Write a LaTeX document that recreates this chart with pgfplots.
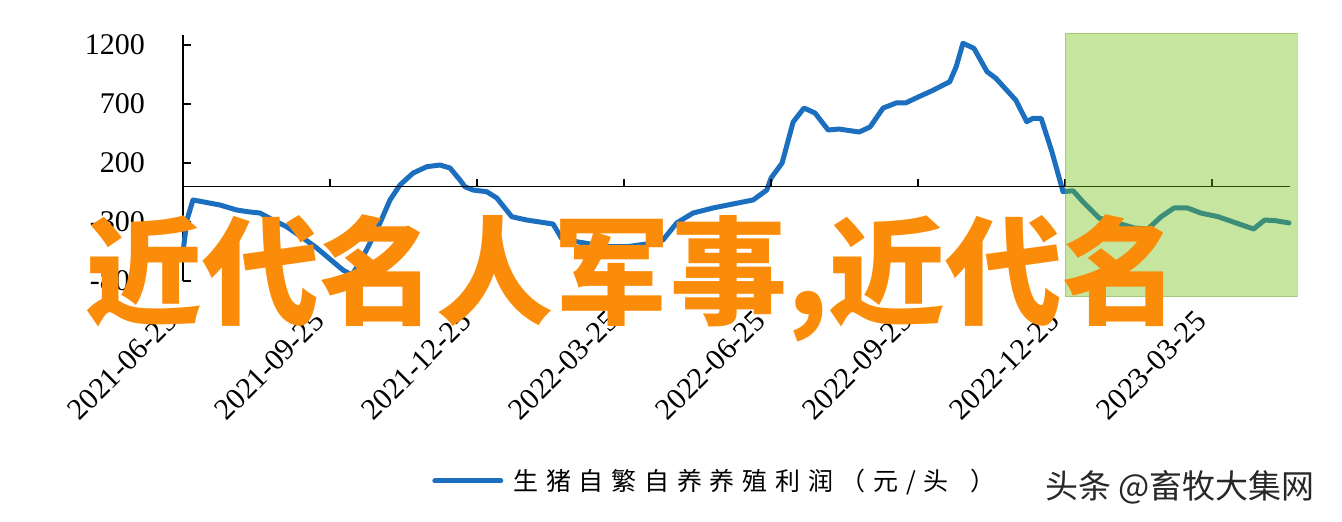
\documentclass[border=0pt]{standalone}
\usepackage{pgfplots}
\pgfplotsset{compat=1.18}
\usepackage{pgfplotstable}
\usepackage{fontspec}
\setmainfont{Liberation Serif}
\newfontfamily\cjk{Noto Sans CJK SC}
\newfontfamily\cjklegend[LetterSpace=31]{Noto Sans CJK SC}

\definecolor{pigblue}{RGB}{28,110,190}
\definecolor{boxgreen}{RGB}{112,192,17}
\definecolor{boxedge}{RGB}{90,160,30}
\definecolor{overlay}{RGB}{250,140,10}
\definecolor{mark}{RGB}{40,40,40}

% profit per head, x in quarters from 2021-06-25
\pgfplotstableread{
x      y
0.000  -555
0.027  -284
0.068  -114
0.252  -157
0.365  -199
0.442  -214
0.524  -225
0.612  -284
0.705  -341
0.816  -436
0.910  -521
1.020  -637
1.088  -708
1.148  -750
1.170  -708
1.224  -595
1.272  -479
1.340  -309
1.408  -114
1.476    13
1.565   114
1.658   168
1.748   182
1.816   157
1.884    55
1.918    -2
1.973   -30
2.066   -44
2.134   -97
2.236  -256
2.338  -284
2.517  -318
2.578  -445
2.687  -470
2.882  -510
3.018  -510
3.154  -487
3.265  -453
3.358  -309
3.469  -225
3.605  -182
3.741  -148
3.878  -114
3.971   -30
4.000    72
4.075   199
4.150   547
4.224   665
4.299   623
4.388   479
4.463   487
4.599   462
4.673   504
4.762   665
4.855   710
4.915   708
5.005   761
5.095   812
5.215   888
5.259  1015
5.305  1214
5.380  1171
5.469   973
5.529   917
5.664   733
5.739   549
5.782   578
5.837   578
5.910   295
5.986   -44
6.054   -36
6.129  -140
6.231  -267
6.354  -309
6.473  -352
6.563  -360
6.653  -256
6.741  -182
6.833  -182
6.923  -225
7.041  -256
7.163  -309
7.282  -360
7.357  -284
7.432  -290
7.523  -309
}\profit

\begin{document}
\begin{tikzpicture}
\path[use as bounding box] (0pt,0pt) rectangle (1342pt,522pt);
\begin{axis}[
  at={(183pt,241.1pt)}, anchor=south west,
  scale only axis, width=1107pt, height=245.4pt,
  xmin=0, xmax=7.53, ymin=-800, ymax=1280,
  clip=false,
  axis y line=left, axis x line*=bottom,
  y axis line style={-, line width=1.6pt, black},
  x axis line style={draw=none},
  xtick={0,...,7},
  xticklabels={2021-06-25,2021-09-25,2021-12-25,2022-03-25,2022-06-25,2022-09-25,2022-12-25,2023-03-25},
  xtick style={draw=none},
  ytick={-800,-300,200,700,1200},
  yticklabels={-800,-300,200,700,1200},
  tick align=inside, major tick length=8pt,
  ytick style={black, line width=1.4pt},
  yticklabel style={font=\fontsize{30}{36}\selectfont, inner sep=0pt, xshift=-38pt},
  xticklabel style={font=\fontsize{30}{36}\selectfont, inner sep=0pt, xshift=-11pt, yshift=-35pt, rotate=45, anchor=east},
  legend style={at={(0.225,-0.8154)}, anchor=west, draw=none, fill=none, inner sep=0pt,
    nodes={inner sep=0pt, font=\cjklegend\fontsize{25}{30}\selectfont}},
  legend image code/.code={\draw[#1] (2pt,0pt) -- (68pt,0pt);},
]
\addplot[pigblue, line width=5pt, line join=round, line cap=round] table[x=x, y=y] {\profit};
\addlegendentry{\hspace{10pt}生猪自繁自养养殖利润（元/头\hspace{22pt}）}

\draw[black, line width=1.5pt] (axis cs:0,0) -- (axis cs:7.53,0);
\pgfplotsinvokeforeach{1,...,7}{
  \draw[black, line width=1.3pt] (axis cs:#1,0) -- ++(0pt,8pt);
}

\addplot[fill=boxgreen, fill opacity=0.4, draw=boxedge, draw opacity=0.35, line width=1pt, forget plot]
  coordinates {(6.0,-936) (7.578,-936) (7.578,1301) (6.0,1301)} -- cycle;
\end{axis}

\node[anchor=west, inner sep=0pt, text=overlay] at (85pt,244pt)
  {\cjk\bfseries\fontsize{117}{117}\selectfont 近代名人军事,近代名};
\node[anchor=west, inner sep=0pt, text=mark] at (1045pt,35pt)
  {\cjk\fontsize{33}{38}\selectfont 头条 @畜牧大集网};
\end{tikzpicture}
\end{document}
